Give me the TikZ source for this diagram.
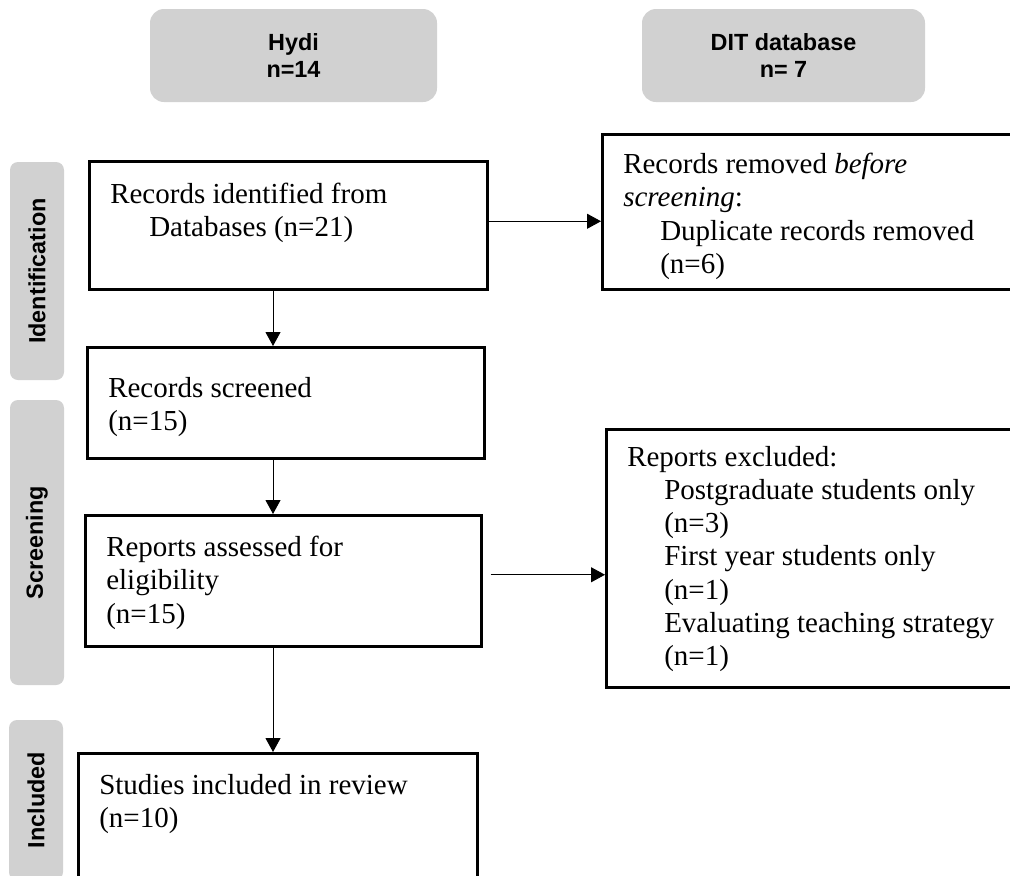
\documentclass[tikz,border=0pt]{standalone}
\usepackage{fontspec}
\setmainfont{Liberation Serif}
\setsansfont{Liberation Sans}
\usepackage{tikz}
\usetikzlibrary{arrows.meta}
\definecolor{phasegray}{RGB}{209,209,209}
\newcommand{\boxtext}[3]{\begin{minipage}[c][#2][t]{#1}\raggedright #3\end{minipage}}

\begin{document}
\begin{tikzpicture}[x=0.5pt, y=-0.5pt,
  srcbox/.style={fill=phasegray, rounded corners=7pt, align=center, minimum width=143.5pt, minimum height=46.5pt, font=\fontsize{11.7}{13.5}\selectfont\sffamily\bfseries},
  phase/.style={fill=phasegray, rounded corners=4pt, rotate=90, minimum height=27pt, font=\fontsize{11.7}{13.5}\selectfont\sffamily\bfseries},
  flowbox/.style={draw, line width=1.25pt, anchor=north west, inner xsep=10.5pt, inner ysep=10.5pt, font=\fontsize{14.5}{16.6}\selectfont},
  arr/.style={-{Triangle[length=7pt,width=7.5pt]}, line width=0.5pt}]
  \clip (0,0) rectangle (1010,875);

  % sources
  \node[srcbox] (hydi) at (293.5,55.5) {Hydi\\n=14};
  \node[srcbox, minimum width=141.5pt] (dit) at (783.5,55.5) {DIT database\\n= 7};

  % phases
  \node[phase, minimum width=109pt] (idphase) at (37,271) {Identification};
  \node[phase, minimum width=142.5pt] (scphase) at (37,542.5) {Screening};
  \node[phase, minimum width=80pt] (inphase) at (36,800) {Included};

  % flow boxes
  \node[flowbox, inner ysep=11pt] (ident) at (88,160)
    {\boxtext{178pt}{42pt}{Records identified from\\\hspace*{19.5pt}Databases (n=21)}};
  \node[flowbox, inner ysep=9.5pt] (removed) at (601,133)
    {\boxtext{199pt}{58.5pt}{Records removed \textit{before}\\\textit{screening}:\\\hspace*{18.5pt}Duplicate records removed\\\hspace*{18.5pt}(n=6)}};
  \node[flowbox, inner ysep=15pt] (screened) at (86,346)
    {\boxtext{177.5pt}{25.5pt}{Records screened\\(n=15)}};
  \node[flowbox] (assess) at (84,514)
    {\boxtext{177pt}{44.5pt}{Reports assessed for\\eligibility\\(n=15)}};
  \node[flowbox, inner ysep=8.5pt] (excluded) at (605,428)
    {\boxtext{196.5pt}{112pt}{Reports excluded:\\\hspace*{18.5pt}Postgraduate students only\\\hspace*{18.5pt}(n=3)\\\hspace*{18.5pt}First year students only\\\hspace*{18.5pt}(n=1)\\\hspace*{18.5pt}Evaluating teaching strategy\\\hspace*{18.5pt}(n=1)}};
  \node[flowbox] (included) at (77,752)
    {\boxtext{178.5pt}{60pt}{Studies included in review\\(n=10)}};

  % arrows
  \coordinate (spine) at (273,0);
  \draw[arr] (ident.south -| spine) -- (screened.north -| spine);
  \draw[arr] (screened.south -| spine) -- (assess.north -| spine);
  \draw[arr] (assess.south -| spine) -- (included.north -| spine);

  \coordinate (rmstart) at ([yshift=2pt]ident.east);
  \draw[arr] (rmstart) -- (rmstart -| removed.west);
  \coordinate (exstart) at ([xshift=4pt,yshift=3pt]assess.east);
  \draw[arr] (exstart) -- (exstart -| excluded.west);
\end{tikzpicture}
\end{document}
